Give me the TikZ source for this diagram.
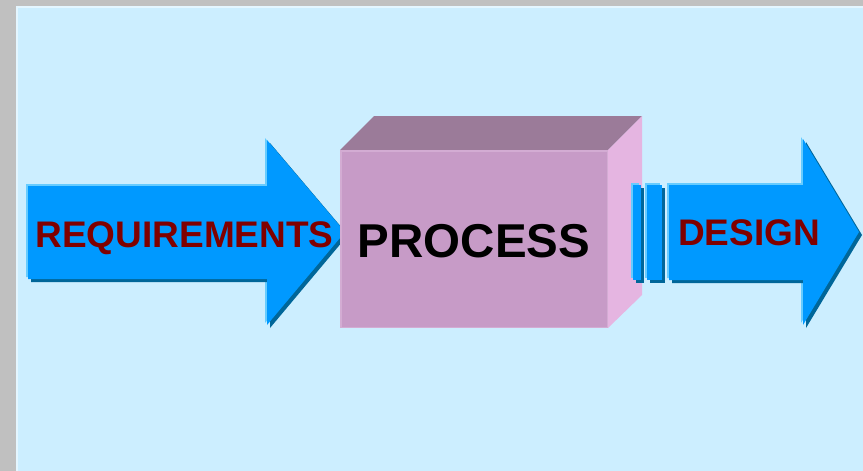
\documentclass[tikz,border=0pt]{standalone}
\usepackage{fontspec}
\setmainfont{Liberation Sans}
\definecolor{frame}{HTML}{C0C0C0}
\definecolor{paper}{HTML}{CCEEFF}
\definecolor{paperedge}{HTML}{E4F6FF}
\definecolor{arrowblue}{HTML}{0099FF}
\definecolor{arrowhi}{HTML}{66CCFF}
\definecolor{arrowsh}{HTML}{006699}
\definecolor{labelred}{HTML}{800000}
\definecolor{boxfront}{HTML}{C79BC7}
\definecolor{boxedge}{HTML}{D3ACD3}
\definecolor{boxtop}{HTML}{9B7B99}
\definecolor{boxside}{HTML}{E5B5E1}
\tikzset{
  arrowlabel/.style={anchor=base, inner sep=0pt, text=labelred, font=\fontsize{37}{41}\selectfont\bfseries},
  boxlabel/.style={anchor=base, inner sep=0pt, text=black, font=\fontsize{47.5}{52}\selectfont\bfseries},
  hi/.style={fill=arrowhi, shift={(-2,-2)}},
  sh/.style={fill=arrowsh, shift={(3,3)}},
  mainfill/.style={fill=arrowblue},
}
\begin{document}
\begin{tikzpicture}[x=1pt,y=-1pt]
\useasboundingbox (0,0) rectangle (863,471);
% page frame
\fill[frame] (0,0) rectangle (863,471);
\fill[paperedge] (16,6) rectangle (863,471);
\fill[paper] (18,8) rectangle (863,471);
% left arrow
\foreach \st in {hi,sh,mainfill}{
  \fill[\st] (28,186) -- (267,186) -- (267,140) -- (345,232) -- (267,325) -- (267,279) -- (28,279) -- cycle;
}
% right arrow
\foreach \st in {hi,sh,mainfill}{
  \fill[\st] (669,185) -- (803,185) -- (803,139) -- (859,232) -- (803,325) -- (803,280) -- (669,280) -- cycle;
}
% process box
\fill[boxtop] (340,150) -- (374,116) -- (642,116) -- (608,150) -- cycle;
\fill[boxside] (608,150) -- (642,116) -- (642,295) -- (608,328) -- cycle;
\draw[boxedge, line width=1.5pt, fill=boxfront] (340.75,150.75) rectangle (607.25,327.25);
% bars before right arrow (in front of the box side)
\foreach \st in {hi,sh,mainfill}{
  \fill[\st] (633,185) rectangle (641,280);
  \fill[\st] (647,185) rectangle (662,280);
}
% labels
\node[arrowlabel] (req) at (184.5,247) {REQUIREMENTS};
\node[boxlabel] (proc) at (474,257) {PROCESS};
\node[arrowlabel] (des) at (749,245) {DESIGN};
\end{tikzpicture}
\end{document}
